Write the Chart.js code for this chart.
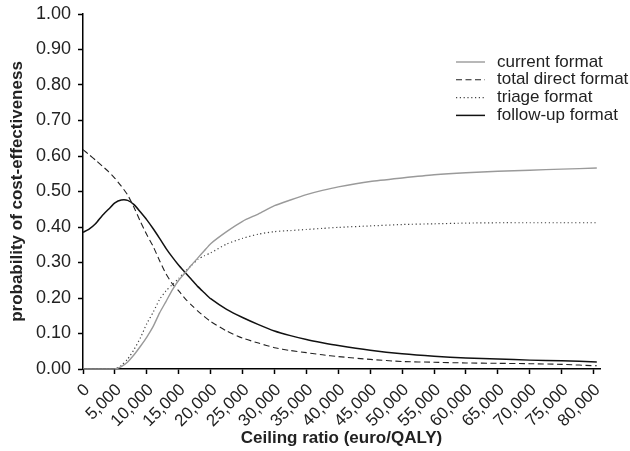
<!DOCTYPE html>
<html>
<head>
<meta charset="utf-8">
<script src="https://cdn.jsdelivr.net/npm/chart.js@4"></script>
<style>
  html, body { margin: 0; padding: 0; background: #fff; }
  #wrap { width: 630px; height: 451px; }
</style>
</head>
<body>
<div id="wrap"><canvas id="ceacChart"></canvas></div>
<script>
// ceiling ratio (euro/QALY)
const ceiling = [0, 1000, 2000, 3000, 4000, 5000, 6000, 7000, 8000, 9000, 10000,
  11000, 12000, 13000, 14000, 15000, 16000, 17000, 18000, 19000, 20000,
  22500, 25000, 27500, 30000, 32500, 35000, 37500, 40000, 45000, 50000,
  55000, 60000, 65000, 70000, 75000, 80500];

const currentFormat = [0, 0, 0, 0, 0, 0, 0.007, 0.02, 0.04, 0.064, 0.09,
  0.12, 0.158, 0.19, 0.223, 0.25, 0.271, 0.293, 0.313, 0.333, 0.353,
  0.387, 0.416, 0.437, 0.46, 0.476, 0.491, 0.503, 0.513, 0.528, 0.538,
  0.547, 0.553, 0.557, 0.56, 0.563, 0.566];

const totalDirectFormat = [0.618, 0.603, 0.588, 0.572, 0.556, 0.537, 0.515, 0.49, 0.455, 0.415, 0.378,
  0.345, 0.305, 0.268, 0.24, 0.22, 0.198, 0.18, 0.163, 0.148, 0.134,
  0.107, 0.087, 0.073, 0.06, 0.052, 0.046, 0.04, 0.035, 0.027, 0.021,
  0.019, 0.017, 0.016, 0.015, 0.013, 0.009];

const triageFormat = [0, 0, 0, 0, 0, 0, 0.01, 0.028, 0.055, 0.088, 0.128,
  0.16, 0.196, 0.22, 0.238, 0.255, 0.275, 0.292, 0.309, 0.319, 0.327,
  0.352, 0.368, 0.38, 0.387, 0.39, 0.393, 0.396, 0.399, 0.403, 0.407,
  0.409, 0.411, 0.412, 0.412, 0.412, 0.412];

const followUpFormat = [0.385, 0.395, 0.41, 0.432, 0.45, 0.468, 0.476, 0.475, 0.463, 0.442, 0.42,
  0.395, 0.368, 0.34, 0.315, 0.292, 0.272, 0.252, 0.232, 0.215, 0.198,
  0.168, 0.145, 0.125, 0.107, 0.094, 0.083, 0.074, 0.066, 0.053, 0.043,
  0.036, 0.031, 0.028, 0.025, 0.023, 0.02];

const seriesNames = ['current format', 'total direct format', 'triage format', 'follow-up format'];

// tick labels
const xTicks = [0, 5000, 10000, 15000, 20000, 25000, 30000, 35000, 40000,
  45000, 50000, 55000, 60000, 65000, 70000, 75000, 80000];
const yTicks = [0, 0.1, 0.2, 0.3, 0.4, 0.5, 0.6, 0.7, 0.8, 0.9, 1.0];

const textColor = '#222';
const fontFamily = '"Liberation Sans", Arial, sans-serif';

function pts(values) {
  return ceiling.map((x, i) => ({ x: x, y: values[i] }));
}

// legend drawn inside the plot, top right
const insideLegend = {
  id: 'insideLegend',
  afterDraw(chart) {
    const ctx = chart.ctx;
    ctx.save();
    ctx.font = '17px ' + fontFamily;
    ctx.fillStyle = textColor;
    ctx.textBaseline = 'middle';
    chart.data.datasets.forEach((ds, i) => {
      const y = 62 + i * 17.8;
      ctx.beginPath();
      ctx.strokeStyle = ds.borderColor;
      ctx.lineWidth = ds.borderWidth;
      ctx.setLineDash(ds.borderDash || []);
      ctx.moveTo(456, y);
      ctx.lineTo(485, y);
      ctx.stroke();
      ctx.setLineDash([]);
      ctx.fillText(ds.label, 497, y);
    });
    ctx.restore();
  }
};

const ctx = document.getElementById('ceacChart').getContext('2d');
new Chart(ctx, {
  type: 'line',
  data: {
    datasets: [
      {
        label: seriesNames[0],
        data: pts(currentFormat),
        borderColor: '#9a9a9a',
        borderWidth: 1.4,
        pointRadius: 0,
        tension: 0.2,
        fill: false
      },
      {
        label: seriesNames[1],
        data: pts(totalDirectFormat),
        borderColor: '#222',
        borderWidth: 1.1,
        borderDash: [6, 3.5],
        pointRadius: 0,
        tension: 0.2,
        fill: false
      },
      {
        label: seriesNames[2],
        data: pts(triageFormat),
        borderColor: '#444',
        borderWidth: 1.2,
        borderDash: [1.2, 2.6],
        pointRadius: 0,
        tension: 0.2,
        fill: false
      },
      {
        label: seriesNames[3],
        data: pts(followUpFormat),
        borderColor: '#111',
        borderWidth: 1.5,
        pointRadius: 0,
        tension: 0.2,
        fill: false
      }
    ]
  },
  options: {
    responsive: true,
    maintainAspectRatio: false,
    animation: false,
    layout: {
      padding: { top: 14, right: 30, left: 0, bottom: 0 }
    },
    plugins: {
      legend: { display: false },
      tooltip: { enabled: false }
    },
    scales: {
      x: {
        type: 'linear',
        min: 0,
        max: 81000,
        afterBuildTicks: (axis) => {
          axis.ticks = xTicks.map(v => ({ value: v }));
        },
        afterFit: (axis) => {
          axis.height = 82;
          axis.paddingLeft = 0;
          axis.paddingRight = 0;
        },
        ticks: {
          autoSkip: false,
          minRotation: 45,
          maxRotation: 45,
          padding: 6,
          labelOffset: 4,
          color: textColor,
          font: { family: fontFamily, size: 17 },
          callback: (v) => v.toLocaleString('en-US')
        },
        grid: {
          drawOnChartArea: false,
          drawTicks: true,
          tickLength: 5,
          tickWidth: 1.5,
          tickColor: '#000'
        },
        border: { display: true, color: '#000', width: 1.5 },
        title: {
          display: true,
          text: 'Ceiling ratio (euro/QALY)',
          color: textColor,
          padding: { top: 0, bottom: 2 },
          font: { family: fontFamily, size: 17, weight: 'bold' }
        }
      },
      y: {
        min: 0,
        max: 1,
        afterBuildTicks: (axis) => {
          axis.ticks = yTicks.map(v => ({ value: v }));
        },
        afterFit: (axis) => {
          axis.width = 83;
          axis.paddingTop = 0;
          axis.paddingBottom = 0;
        },
        ticks: {
          autoSkip: false,
          padding: 7,
          color: textColor,
          font: { family: fontFamily, size: 18 },
          callback: (v) => v.toFixed(2)
        },
        grid: {
          drawOnChartArea: false,
          drawTicks: true,
          tickLength: 5,
          tickWidth: 1.5,
          tickColor: '#000'
        },
        border: { display: true, color: '#000', width: 1.5 },
        title: {
          display: true,
          text: 'probability of cost-effectiveness',
          color: textColor,
          padding: { top: 7, bottom: 0 },
          font: { family: fontFamily, size: 17, weight: 'bold' }
        }
      }
    }
  },
  plugins: [insideLegend]
});
</script>
</body>
</html>
